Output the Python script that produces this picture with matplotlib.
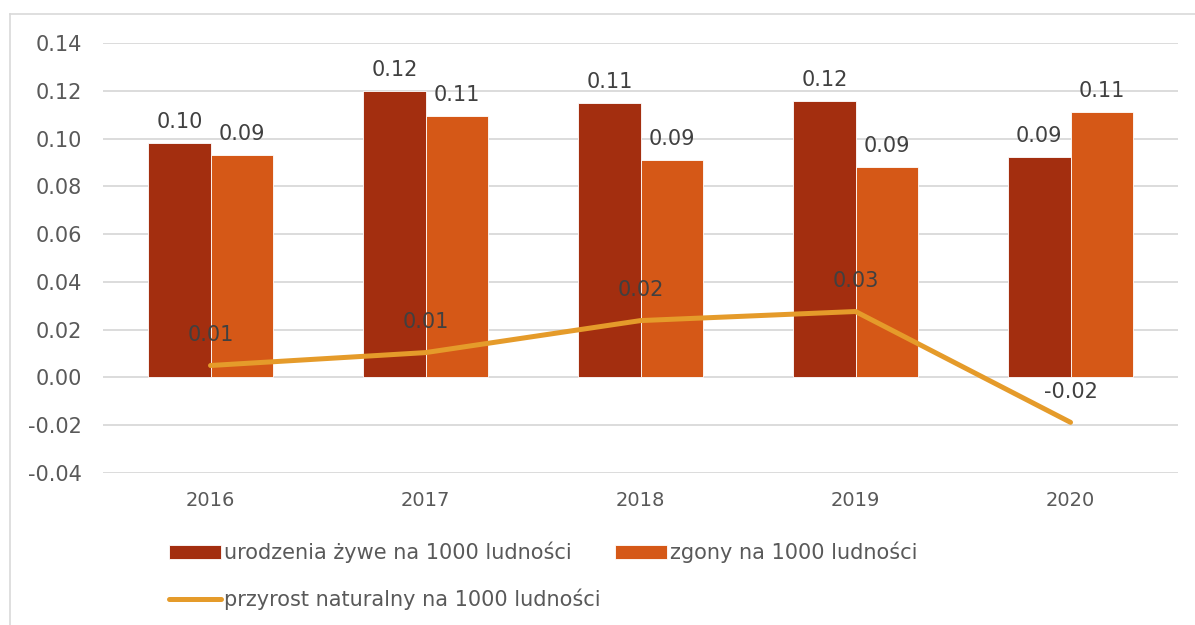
import numpy as np
import matplotlib.pyplot as plt
from matplotlib.lines import Line2D

# dane: wskazniki na 1000 ludnosci
years = ['2016', '2017', '2018', '2019', '2020']
births = [0.0981, 0.1198, 0.1148, 0.1157, 0.0923]
deaths = [0.0931, 0.1094, 0.0910, 0.0881, 0.1111]
growth = [0.0050, 0.0104, 0.0238, 0.0276, -0.0188]
yticks = [-0.04, -0.02, 0.00, 0.02, 0.04, 0.06, 0.08, 0.10, 0.12, 0.14]

c_births = '#A32E0F'
c_deaths = '#D55817'
c_growth = '#E59B2A'
txt = '#404040'
fs = 15

plt.rcParams['font.family'] = ['DejaVu Sans']

fig = plt.figure(figsize=(11.95, 6.25), dpi=100)
ax = fig.add_axes([0.0862, 0.2432, 0.8996, 0.688])

x = np.arange(len(years))
w = 0.29
b1 = ax.bar(x - w / 2, births, w, color=c_births, edgecolor='white', linewidth=0.6,
            label='urodzenia żywe na 1000 ludności', zorder=2)
b2 = ax.bar(x + w / 2, deaths, w, color=c_deaths, edgecolor='white', linewidth=0.6,
            label='zgony na 1000 ludności', zorder=2)
ln, = ax.plot(x, growth, color=c_growth, lw=3.6, solid_capstyle='round',
              label='przyrost naturalny na 1000 ludności', zorder=3)

for bars in (b1, b2):
    for r in bars:
        ax.annotate(f'{r.get_height():.2f}', (r.get_x() + r.get_width() / 2, r.get_height()),
                    xytext=(0, 8), textcoords='offset points', ha='center', va='bottom',
                    fontsize=fs, color=txt)
for xi, g in zip(x, growth):
    ax.annotate(f'{g:.2f}', (xi, g), xytext=(0, 15), textcoords='offset points',
                ha='center', va='bottom', fontsize=fs, color=txt, zorder=4)

ax.set_xlim(-0.5, 4.5)
ax.set_ylim(-0.04, 0.14)
ax.set_yticks(yticks)
ax.set_yticklabels([f'{t:.2f}' for t in yticks])
ax.set_xticks(x)
ax.set_xticklabels(years)
ax.grid(axis='y', color='#D9D9D9', lw=1.3, zorder=0)
ax.set_axisbelow(True)
for s in ax.spines.values():
    s.set_visible(False)
ax.tick_params(length=0, labelsize=fs, labelcolor='#595959')
ax.tick_params(axis='y', pad=15)
ax.tick_params(axis='x', pad=13, labelsize=14)

handles = [b1, ln, b2]
labels = [h.get_label() for h in handles]
fig.legend(handles, labels, ncol=2, loc='upper left', bbox_to_anchor=(0.1255, 0.163),
           frameon=False, fontsize=fs, labelcolor='#595959', handlelength=2.5,
           handleheight=0.6, handletextpad=0.15, columnspacing=0.7, labelspacing=1.2)

# ramka wykresu
fig.add_artist(Line2D([0.0084, 0.0084], [0, 0.978], color='#D9D9D9', lw=1.2))
fig.add_artist(Line2D([0.0084, 1.0], [0.978, 0.978], color='#D9D9D9', lw=1.2))

fig.savefig('out.png', dpi=100)
